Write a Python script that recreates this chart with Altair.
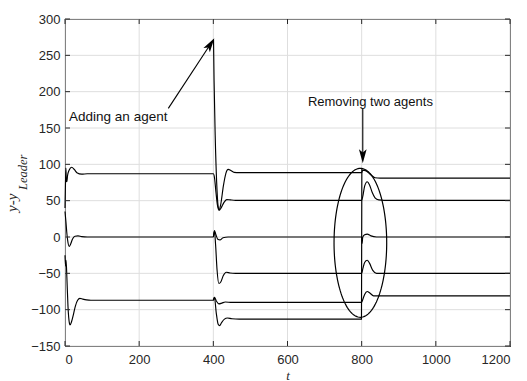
import altair as alt
import numpy as np
import pandas as pd

# ---- agent trajectories: y - y_Leader versus t ----
a_t = [0, 1.5, 2.5, 3.5, 5, 7, 11, 18, 25, 32, 45, 60, 400, 403, 407, 411, 415, 420, 427, 434, 440, 447, 456, 470, 800, 803, 812, 824, 836, 850, 1200]
a_v = [40, 80, 95, 78, 76, 85, 92, 96, 93, 88.5, 86.5, 87, 87, 82, 62, 44, 37, 45, 70, 88, 93, 91.5, 89, 88.5, 88.5, 92, 91, 86, 81.5, 81, 81]

b_t = [400.5, 402, 405, 409, 413, 416, 421, 428, 436, 446, 460, 800, 803, 808, 815, 821, 828, 836, 846, 860, 1200]
b_v = [272, 215, 140, 75, 42, 37, 40, 47, 51.5, 51, 50.5, 50.5, 56, 70, 76, 72, 62, 54, 51, 50.5, 50.5]

c_t = [0, 2.5, 4.5, 7, 11.5, 15, 20, 27, 35, 45, 60, 400, 403, 407, 412, 418, 426, 440, 800, 801, 803, 808, 815, 825, 840, 1200]
c_v = [35, 21, 8, -4, -13, -10, -3, 1, 1.5, 0.5, 0, 0, 9, 3, -3, -4, -1, 0, 0, -9, 0, 3, 4, 1.5, 0, 0]

d_t = [400, 403, 406, 410, 415, 420, 427, 435, 445, 460, 800, 803, 808, 815, 821, 830, 840, 1200]
d_v = [0, 8, -10, -45, -64, -62, -53, -48.5, -49.5, -50, -50, -44, -35, -32, -36, -46, -50, -50]

e_t = [0, 1.5, 3, 5, 8, 12, 13.5, 18, 23, 28, 34, 40, 48, 58, 70, 400, 403, 408, 415, 423, 432, 450, 800, 803, 808, 815, 822, 832, 1200]
e_v = [-25, -40, -32, -55, -95, -119, -121, -116, -106, -95, -87, -84.5, -85.5, -86.5, -87, -87, -83, -88, -92, -91, -89.5, -90, -90, -86, -79, -75, -77, -81, -81]

f_t = [400, 403, 408, 413, 417, 422, 430, 438, 450, 470, 799.5, 800.5]
f_v = [-87, -83, -105, -120, -122, -118, -113, -111.5, -112.5, -113, -113, 94]

x_ticks = [0, 200, 400, 600, 800, 1000, 1200]
y_ticks = [-150, -100, -50, 0, 50, 100, 150, 200, 250, 300]

# annotations
add_text = "Adding an agent"
add_text_pos = (11, 164.5)
add_arrow_t = [278.6, 393.0]
add_arrow_v = [177.0, 266.0]
add_head = (392.3, 265.3, 33.3)

rem_text = "Removing two agents"
rem_text_pos = (655, 186)
rem_arrow_t = [803, 803]
rem_arrow_v = [177.5, 112.0]
rem_head = (803, 111.0, 180)

ell_center = (796.5, -8.0)
ell_radius = (71.0, 102.5)

W, H = 445, 327
INK = "#262626"
GRID = "#dedede"

series = {"A": (a_t, a_v), "B": (b_t, b_v), "C": (c_t, c_v),
          "D": (d_t, d_v), "E": (e_t, e_v), "F": (f_t, f_v)}
rows = []
for name, (ts, vs) in series.items():
    for i, (t, v) in enumerate(zip(ts, vs)):
        rows.append({"agent": name, "t": t, "v": v, "i": i})
df = pd.DataFrame(rows)

xs = alt.Scale(domain=[0, 1200], nice=False, zero=False)
ys = alt.Scale(domain=[-150, 300], nice=False, zero=False)

xax = alt.Axis(
    values=x_ticks, format="d", title="t", grid=False,
    ticks=False, tickSize=0,
    labelFont="Liberation Sans", labelFontSize=13, labelColor=INK, labelPadding=7,
    domainColor=INK, titleFont="Liberation Serif", titleFontStyle="italic",
    titleFontWeight="normal", titleFontSize=13, titleColor=INK, titlePadding=3)
yax = alt.Axis(
    values=y_ticks, format="d", title="", grid=False,
    ticks=False, tickSize=0,
    labelFont="Liberation Sans", labelFontSize=13, labelColor=INK, labelPadding=5,
    domainColor=INK)

X = lambda: alt.X("t:Q", scale=xs, axis=xax)
Y = lambda: alt.Y("v:Q", scale=ys, axis=yax)

xt = pd.DataFrame({"t": x_ticks})
yt = pd.DataFrame({"v": y_ticks})

# grid lines
xgrid = alt.Chart(xt).mark_rule(color=GRID, strokeWidth=1).encode(
    x=X(), y=alt.value(0), y2=alt.value(H))
ygrid = alt.Chart(yt).mark_rule(color=GRID, strokeWidth=1).encode(
    y=Y(), x=alt.value(0), x2=alt.value(W))

lines = alt.Chart(df).mark_line(color="black", strokeWidth=1.15, interpolate="monotone").encode(
    x=X(), y=Y(), detail="agent:N", order="i:Q")

# inward ticks
xb = alt.Chart(xt).mark_rule(color=INK, strokeWidth=1).encode(
    x=X(), y=alt.value(H), y2=alt.value(H - 5))
xtop = alt.Chart(xt).mark_rule(color=INK, strokeWidth=1).encode(
    x=X(), y=alt.value(0), y2=alt.value(5))
yl = alt.Chart(yt).mark_rule(color=INK, strokeWidth=1).encode(
    y=Y(), x=alt.value(0), x2=alt.value(5))
yr = alt.Chart(yt).mark_rule(color=INK, strokeWidth=1).encode(
    y=Y(), x=alt.value(W - 5), x2=alt.value(W))

# ellipse annotation
theta = np.linspace(0, 2 * np.pi, 145)
ell = pd.DataFrame({"t": ell_center[0] + ell_radius[0] * np.cos(theta),
                    "v": ell_center[1] + ell_radius[1] * np.sin(theta),
                    "i": np.arange(len(theta))})
ellipse = alt.Chart(ell).mark_line(color="black", strokeWidth=1.2).encode(
    x=X(), y=Y(), order="i:Q")

# texts
txt = pd.DataFrame({"t": [add_text_pos[0], rem_text_pos[0]],
                    "v": [add_text_pos[1], rem_text_pos[1]],
                    "s": [add_text, rem_text],
                    "fs": [13.5, 13.0]})
texts = alt.Chart(txt).mark_text(align="left", baseline="middle", font="Liberation Sans",
                                 color="#111111").encode(
    x=X(), y=Y(), text="s:N", size=alt.Size("fs:Q", scale=None, legend=None))

# arrows
arr = pd.DataFrame({"t": add_arrow_t + rem_arrow_t, "v": add_arrow_v + rem_arrow_v,
                    "k": ["a", "a", "r", "r"], "i": [0, 1, 0, 1]})
arrows = alt.Chart(arr).mark_line(color="black", strokeWidth=1.1).encode(
    x=X(), y=Y(), detail="k:N", order="i:Q")

head_path = "M0,-1L0.55,1L0,0.55L-0.55,1Z"
heads = []
for (ht, hv, ang) in [add_head, rem_head]:
    hd = pd.DataFrame({"t": [ht], "v": [hv]})
    heads.append(alt.Chart(hd).mark_point(shape=head_path, angle=ang, size=196, filled=True,
                                          color="black", opacity=1, strokeWidth=0).encode(
        x=X(), y=Y()))

# y-axis title: y-y with subscript Leader
ttl1 = alt.Chart(pd.DataFrame({"s": ["y-y"]})).mark_text(
    align="left", baseline="alphabetic", angle=270, font="Liberation Serif",
    fontStyle="italic", fontSize=15, color=INK).encode(
    x=alt.value(-48), y=alt.value(193), text="s:N")
ttl2 = alt.Chart(pd.DataFrame({"s": ["Leader"]})).mark_text(
    align="left", baseline="alphabetic", angle=270, font="Liberation Serif",
    fontStyle="italic", fontSize=12.5, color=INK).encode(
    x=alt.value(-38), y=alt.value(171), text="s:N")

chart = alt.layer(xgrid, ygrid, lines, ellipse, arrows, *heads, texts, xb, xtop, yl, yr,
                  ttl1, ttl2).properties(
    width=W, height=H,
    autosize=alt.AutoSizeParams(type="none"),
    padding={"left": 65, "top": 19, "right": 17, "bottom": 35},
    background="white",
).configure_view(stroke=INK, strokeWidth=1)

chart.save("out.html", embed_options={"renderer": "svg", "actions": False})
